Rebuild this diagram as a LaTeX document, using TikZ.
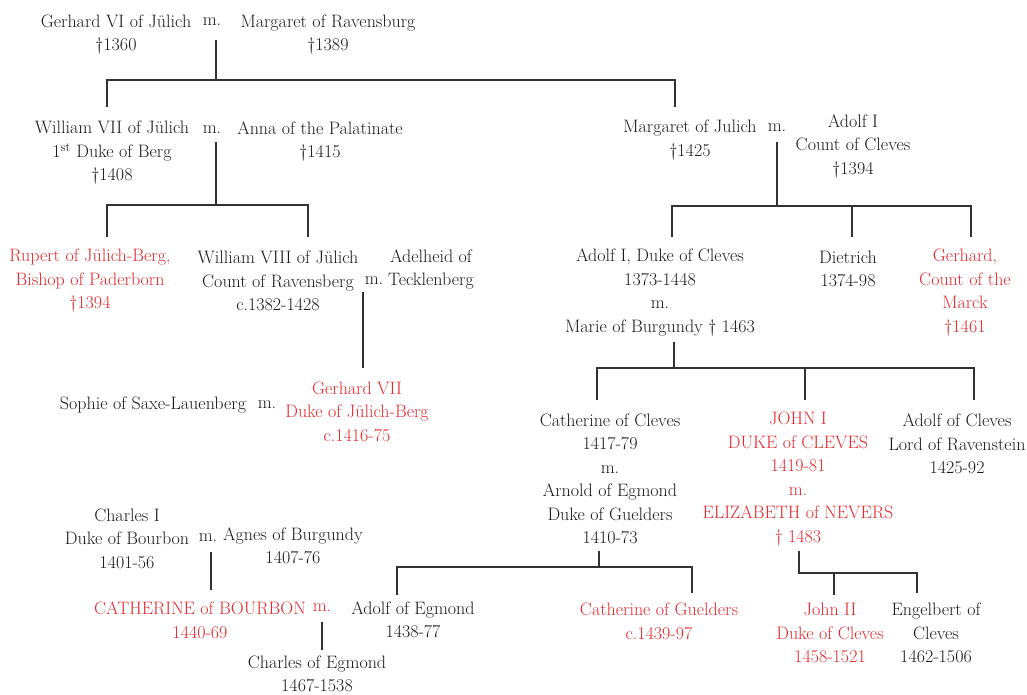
\documentclass[tikz,border=0pt]{standalone}
\usepackage{fontspec}
\definecolor{ink}{RGB}{25,25,25}
\definecolor{redink}{RGB}{230,40,45}
\definecolor{linec}{RGB}{50,50,50}
\newcommand{\mydag}{\textdagger}
\tikzset{
  person/.style={align=center, inner sep=0pt, text=ink, font=\fontsize{18}{23.5}\selectfont},
  redp/.style={person, text=redink},
  link/.style={draw=linec, line width=1.6pt}
}
\begin{document}
\begin{tikzpicture}[x=1pt,y=-1pt]
\useasboundingbox (0,0) rectangle (1027,695);
% generation 1
\node[person] (g6) at (116,34.5) {Gerhard VI of Jülich\\\mydag1360};
\node[person] (m1) at (212,22) {m.};
\node[person] (mr) at (328,34.5) {Margaret of Ravensburg\\\mydag1389};
% generation 2
\node[person] (w7) at (112,153) {William VII of Jülich\\1\textsuperscript{st} Duke of Berg\\\mydag1408};
\node[person] (m2) at (212,130) {m.};
\node[person] (anna) at (320,141.5) {Anna of the Palatinate\\\mydag1415};
\node[person] (mj) at (690,140) {Margaret of Julich\\\mydag1425};
\node[person] (m3) at (777,128) {m.};
\node[person] (a1) at (853,146.5) {Adolf I\\Count of Cleves\\\mydag1394};
% generation 3
\node[redp] (rup) at (90,281) {Rupert of Jülich-Berg,\\Bishop of Paderborn\\\mydag1394};
\node[person] (w8) at (278,281) {William VIII of Jülich\\Count of Ravensberg\\c.1382-1428};
\node[person] (m4) at (374,281) {m.};
\node[person] (adel) at (431,269.5) {Adelheid of\\Tecklenberg};
\node[person] (ad1) at (660,292.5) {Adolf I, Duke of Cleves\\1373-1448\\m.\\Marie of Burgundy \mydag{} 1463};
\node[person] (diet) at (848,269) {Dietrich\\1374-98};
\node[redp] (gerh) at (965,292.5) {Gerhard,\\Count of the\\Marck\\\mydag1461};
% generation 4
\node[person] (soph) at (153,405) {Sophie of Saxe-Lauenberg};
\node[person] (m5) at (267,405) {m.};
\node[redp] (g7) at (357,411.5) {Gerhard VII\\Duke of Jülich-Berg\\c.1416-75};
\node[person] (cath) at (610,479) {Catherine of Cleves\\1417-79\\m.\\Arnold of Egmond\\Duke of Guelders\\1410-73};
\node[redp] (john) at (798,479) {JOHN I\\DUKE of CLEVES\\1419-81\\m.\\ELIZABETH of NEVERS\\\mydag{} 1483};
\node[person] (adc) at (957,444) {Adolf of Cleves\\Lord of Ravenstein\\1425-92};
% Bourbon
\node[person] (ch1) at (127,538.5) {Charles I\\Duke of Bourbon\\1401-56};
\node[person] (m6) at (208,538) {m.};
\node[person] (agn) at (293,546) {Agnes of Burgundy\\1407-76};
% generation 5
\node[redp] (catb) at (200,620.5) {CATHERINE of BOURBON\\1440-69};
\node[redp] (m7) at (322,608) {m.};
\node[person] (adeg) at (413,620) {Adolf of Egmond\\1438-77};
\node[person] (chg) at (317,674) {Charles of Egmond\\1467-1538};
\node[redp] (catg) at (659,621.5) {Catherine of Guelders\\c.1439-97};
\node[redp] (j2) at (830,633) {John II\\Duke of Cleves\\1458-1521};
\node[person] (eng) at (936,633) {Engelbert of\\Cleves\\1462-1506};

% connector points
\coordinate (p1) at (216,40);   \coordinate (b1) at (216,80);
\coordinate (d1a) at (107,107); \coordinate (d1b) at (675,107);
\coordinate (p2) at (216,142);  \coordinate (b2) at (216,205);
\coordinate (d2a) at (107,237); \coordinate (d2b) at (308,237);
\coordinate (p3) at (777,142);  \coordinate (b3) at (777,206);
\coordinate (d3a) at (672,237); \coordinate (d3b) at (852,237); \coordinate (d3c) at (971,237);
\coordinate (p4) at (363,292);  \coordinate (d4) at (363,368);
\coordinate (p5) at (674,342);  \coordinate (b5) at (674,368);
\coordinate (d5a) at (597,400); \coordinate (d5b) at (805,400); \coordinate (d5c) at (974,400);
\coordinate (p6) at (211,552);  \coordinate (d6) at (211,590);
\coordinate (p7) at (322,622);  \coordinate (d7) at (322,650);
\coordinate (p8) at (599,551);  \coordinate (b8) at (599,567);
\coordinate (d8a) at (397,595); \coordinate (d8b) at (692,593);
\coordinate (p9) at (799,551);  \coordinate (b9) at (799,573);
\coordinate (d9a) at (834,595); \coordinate (d9b) at (917,593);

\draw[link] (p1) -- (b1);
\draw[link] (d1a) |- (b1) -| (d1b);
\draw[link] (p2) -- (b2);
\draw[link] (d2a) |- (b2) -| (d2b);
\draw[link] (p3) -- (b3);
\draw[link] (d3a) |- (b3) -| (d3c);
\draw[link] (d3b) -- (d3b |- b3);
\draw[link] (p4) -- (d4);
\draw[link] (p5) -- (b5);
\draw[link] (d5a) |- (b5) -| (d5c);
\draw[link] (d5b) -- (d5b |- b5);
\draw[link] (p6) -- (d6);
\draw[link] (p7) -- (d7);
\draw[link] (p8) -- (b8);
\draw[link] (d8a) |- (b8) -| (d8b);
\draw[link] (p9) |- (b9) -| (d9b);
\draw[link] (d9a) -- (d9a |- b9);
\end{tikzpicture}
\end{document}
